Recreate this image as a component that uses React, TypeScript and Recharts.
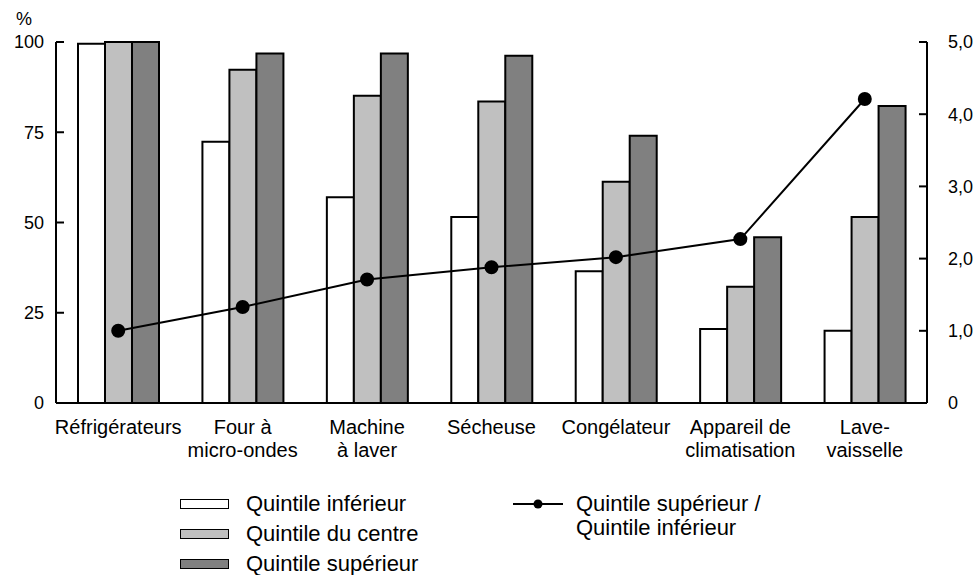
import { ComposedChart, Bar, Line, XAxis, YAxis, Legend } from "recharts";

const categories = [
  "Réfrigérateurs",
  "Four à\nmicro-ondes",
  "Machine\nà laver",
  "Sécheuse",
  "Congélateur",
  "Appareil de\nclimatisation",
  "Lave-\nvaisselle",
];
const inferieur = [99.5, 72.4, 57.0, 51.5, 36.5, 20.5, 20.0];
const centre = [100, 92.3, 85.1, 83.5, 61.3, 32.2, 51.5];
const superieur = [100, 96.8, 96.8, 96.2, 74.0, 45.9, 82.3];
const ratio = [1.0, 1.33, 1.71, 1.88, 2.02, 2.27, 4.21];
const leftTicks = [0, 25, 50, 75, 100];
const rightTicks = [0, 1, 2, 3, 4, 5];

const data = categories.map((c, i) => ({
  name: c,
  inf: inferieur[i],
  cen: centre[i],
  sup: superieur[i],
  ratio: ratio[i],
}));

const FONT = "'Liberation Sans', Arial, sans-serif";

function CategoryTick({ x, y, payload }: any) {
  const lines = String(payload.value).split("\n");
  return (
    <text x={x} y={y + 23} textAnchor="middle" fontSize={20} fontFamily={FONT} fill="#000">
      {lines.map((l, i) => (
        <tspan key={i} x={x} dy={i === 0 ? 0 : 23}>
          {l}
        </tspan>
      ))}
    </text>
  );
}

function LegendContent() {
  const boxes = [
    { label: "Quintile inférieur", fill: "#ffffff" },
    { label: "Quintile du centre", fill: "#c0c0c0" },
    { label: "Quintile supérieur", fill: "#808080" },
  ];
  return (
    <div style={{ position: "relative", width: 979, height: 90, fontFamily: FONT, fontSize: 22 }}>
      {boxes.map((b, i) => (
        <div key={b.label} style={{ position: "absolute", left: 180, top: 7 + i * 30, height: 24, display: "flex", alignItems: "center" }}>
          <div style={{ width: 47, height: 8, background: b.fill, border: "1.5px solid #000" }} />
          <span style={{ marginLeft: 17 }}>{b.label}</span>
        </div>
      ))}
      <div style={{ position: "absolute", left: 513, top: 7, display: "flex" }}>
        <svg width={52} height={24}>
          <line x1={0} y1={12} x2={50} y2={12} stroke="#000" strokeWidth={2} />
          <circle cx={25} cy={12} r={4.5} fill="#000" />
        </svg>
        <span style={{ marginLeft: 11, lineHeight: "24px" }}>
          Quintile supérieur /<br />Quintile inférieur
        </span>
      </div>
    </div>
  );
}

export default function App() {
  return (
    <div style={{ position: "absolute", left: 0, top: 0, width: 979, height: 575, background: "#fff" }}>
      <div style={{ position: "absolute", left: 16, top: 9, fontFamily: FONT, fontSize: 18 }}>%</div>
      <ComposedChart
        width={979}
        height={575}
        data={data}
        margin={{ top: 42, right: 6, bottom: 81, left: 10 }}
        barGap={0}
      >
        <XAxis
          dataKey="name"
          tick={<CategoryTick />}
          tickLine={false}
          axisLine={{ stroke: "#000", strokeWidth: 2 }}
          interval={0}
          height={1}
        />
        <YAxis
          yAxisId="left"
          width={46}
          domain={[0, 100]}
          ticks={leftTicks}
          tickSize={-8}
          tickMargin={20}
          axisLine={{ stroke: "#000", strokeWidth: 2 }}
          tickLine={{ stroke: "#000", strokeWidth: 2 }}
          tick={{ fill: "#000", fontSize: 18, fontFamily: FONT }}
        />
        <YAxis
          yAxisId="right"
          orientation="right"
          width={46}
          domain={[0, 5]}
          ticks={rightTicks}
          tickFormatter={(v: number) => (v === 0 ? "0" : v.toFixed(1).replace(".", ","))}
          tickSize={-8}
          tickMargin={29}
          axisLine={{ stroke: "#000", strokeWidth: 2 }}
          tickLine={{ stroke: "#000", strokeWidth: 2 }}
          tick={{ fill: "#000", fontSize: 18, fontFamily: FONT }}
        />
        <Legend
          verticalAlign="bottom"
          content={<LegendContent />}
          wrapperStyle={{ left: 0, bottom: 0, width: 979, height: 90 }}
        />
        <Bar yAxisId="left" dataKey="inf" barSize={27} fill="#ffffff" stroke="#000" strokeWidth={2} isAnimationActive={false} />
        <Bar yAxisId="left" dataKey="cen" barSize={27} fill="#c0c0c0" stroke="#000" strokeWidth={2} isAnimationActive={false} />
        <Bar yAxisId="left" dataKey="sup" barSize={27} fill="#808080" stroke="#000" strokeWidth={2} isAnimationActive={false} />
        <Line
          yAxisId="right"
          dataKey="ratio"
          stroke="#000"
          strokeWidth={2}
          dot={{ r: 6, fill: "#000", stroke: "#000" }}
          isAnimationActive={false}
        />
      </ComposedChart>
    </div>
  );
}
